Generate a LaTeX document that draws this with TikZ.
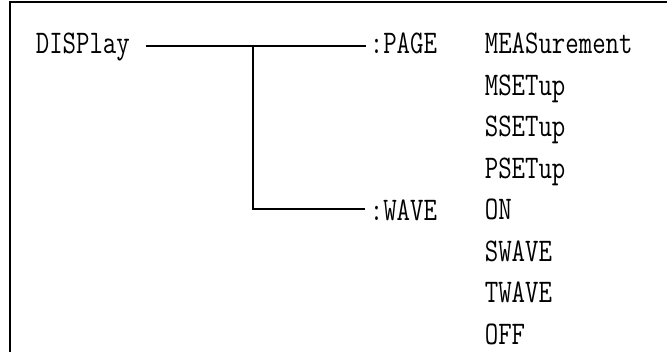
\documentclass[tikz,border=0pt]{standalone}
\usepackage{graphicx}
\usetikzlibrary{positioning,calc}
\newcommand{\scpi}[1]{\scalebox{0.79}[1]{#1}}

\begin{document}
\begin{tikzpicture}[x=1pt, y=-1pt, line width=1.7pt,
 kw/.style={anchor=west, inner sep=0pt, font=\ttfamily\fontsize{33}{33}\selectfont,
 text height=20pt, text depth=0pt}]
 \useasboundingbox (0,0) rectangle (667,352);
 \draw (10,352) -- (10,2) -- (667,2);
 \node[kw] (disp) at (35, 44) {\scpi{DISPlay}};
 \node[kw] (page) at (369, 44) {\scpi{:PAGE}};
 \node[kw] (wave) at (369, 211) {\scpi{:WAVE}};
 \node[kw] (meas) at (484, 44) {\scpi{MEASurement}};
 \node[kw] (mset) at (484, 85.5) {\scpi{MSETup}};
 \node[kw] (sset) at (484, 127) {\scpi{SSETup}};
 \node[kw] (pset) at (484, 168.5) {\scpi{PSETup}};
 \node[kw] (on) at (484, 210) {\scpi{ON}};
 \node[kw] (swave) at (484, 251.5) {\scpi{SWAVE}};
 \node[kw] (twave) at (484, 293) {\scpi{TWAVE}};
 \node[kw] (off) at (484, 334.5) {\scpi{OFF}};
 \coordinate (j1) at (253, 46);
 \coordinate (j2) at (253, 209);
 \draw ($(disp.east)+(15,2)$) -- ($(page.west)+(-3,2)$);
 \draw (j1) -- (j2) -- ($(wave.west)+(-4,-2)$);
\end{tikzpicture}
\end{document}
